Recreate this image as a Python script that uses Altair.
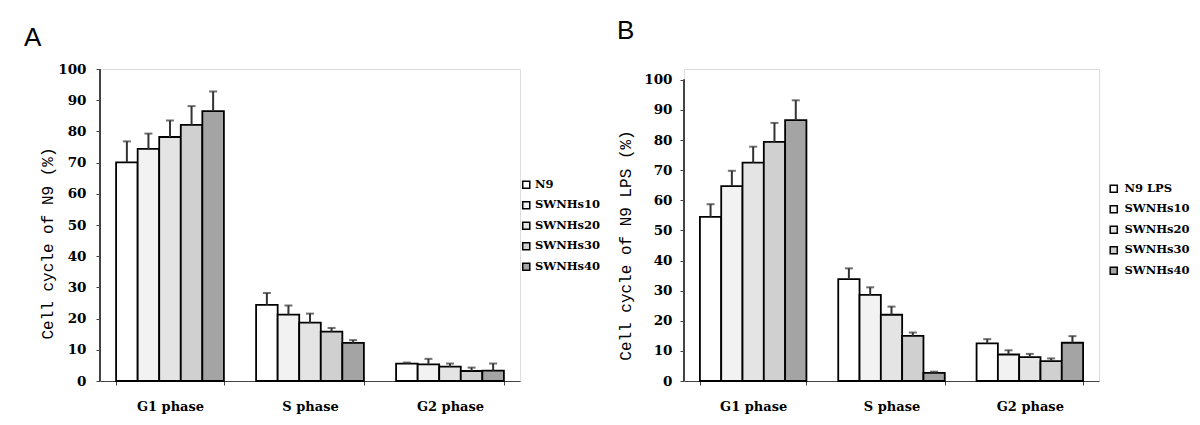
import altair as alt
import pandas as pd

phases = ["G1 phase", "S phase", "G2 phase"]
groups_a = ["N9", "SWNHs10", "SWNHs20", "SWNHs30", "SWNHs40"]
groups_b = ["N9 LPS", "SWNHs10", "SWNHs20", "SWNHs30", "SWNHs40"]

# Panel A values (mean) and error (upper SD), per phase, per group
a_g1 = [70.1, 74.4, 78.2, 82.1, 86.5]
a_g1_err = [6.7, 4.9, 5.3, 6.0, 6.3]
a_s = [24.4, 21.3, 18.7, 15.8, 12.2]
a_s_err = [3.8, 2.9, 2.9, 1.2, 0.9]
a_g2 = [5.6, 5.3, 4.6, 3.2, 3.3]
a_g2_err = [0.3, 1.8, 1.0, 1.1, 2.3]

# Panel B
b_g1 = [54.5, 64.7, 72.5, 79.4, 86.6]
b_g1_err = [4.2, 5.1, 5.3, 6.3, 6.6]
b_s = [33.8, 28.6, 22.0, 15.0, 2.7]
b_s_err = [3.6, 2.5, 2.7, 1.1, 0.4]
b_g2 = [12.5, 8.8, 7.9, 6.6, 12.7]
b_g2_err = [1.4, 1.4, 1.1, 0.9, 2.2]

y_ticks = [0, 10, 20, 30, 40, 50, 60, 70, 80, 90, 100]
fills = ["#ffffff", "#f2f2f2", "#e4e4e4", "#d0d0d0", "#a4a4a4"]
AXIS_GREY = "#444444"


def make_df(groups, vals, errs):
    rows = []
    for p, vs, es in zip(phases, vals, errs):
        for g, v, e in zip(groups, vs, es):
            rows.append({"phase": p, "group": g, "value": v, "top": round(v + e, 2)})
    return pd.DataFrame(rows)


def panel(df, groups, letter, ytitle, width, height, ymax, title_dx, title_offset,
          legend_x, legend_y, label_offset, ytitle_x, ytitle_y, ylabel_pad):
    x = alt.X(
        "phase:N", sort=phases, title=None,
        scale=alt.Scale(paddingInner=0.23, paddingOuter=0.115),
        axis=alt.Axis(labelAngle=0, tickBand="extent", labelFont="DejaVu Serif",
                      labelFontWeight="bold", labelFontSize=13, labelPadding=15,
                      tickSize=4, domainColor=AXIS_GREY, tickColor=AXIS_GREY,
                      labelColor="black"),
    )
    xo = alt.XOffset("group:N", sort=groups,
                     scale=alt.Scale(domain=groups, paddingInner=0, paddingOuter=0))
    yaxis = alt.Axis(values=y_ticks, grid=False, domain=False, labelFont="DejaVu Serif",
                     labelFontWeight="bold", labelFontSize=13.5, labelColor="black",
                     labelPadding=ylabel_pad, tickSize=4, tickColor=AXIS_GREY,
                     labelOverlap=False,
                     titleFont="Liberation Mono", titleFontWeight="normal",
                     titleFontSize=16, titleColor="black",
                     titleX=ytitle_x, titleY=ytitle_y, titleAngle=270)
    yscale = alt.Scale(domain=[0, ymax], nice=False)
    color = alt.Color(
        "group:N", sort=groups,
        scale=alt.Scale(domain=groups, range=fills),
        legend=alt.Legend(title=None, orient="none", legendX=legend_x, legendY=legend_y,
                          padding=0, labelFont="DejaVu Serif", labelFontWeight="bold",
                          labelFontSize=11.5, labelColor="black", symbolType="square",
                          symbolSize=50, symbolStrokeColor="black",
                          symbolStrokeWidth=1.5, rowPadding=6.5,
                          labelOffset=label_offset),
    )
    base = alt.Chart(df)
    bars = base.mark_bar(stroke="black", strokeWidth=1.8).encode(
        x=x, xOffset=xo, y=alt.Y("value:Q", title=ytitle, scale=yscale, axis=yaxis),
        color=color)
    rule = base.mark_rule(color="#333333", strokeWidth=2).encode(
        x=x, xOffset=xo, y=alt.Y("value:Q", title=ytitle, scale=yscale, axis=yaxis),
        y2=alt.Y2("top:Q"))
    cap = base.mark_tick(color="#333333", thickness=2, size=8).encode(
        x=x, xOffset=xo, y=alt.Y("top:Q", title=ytitle, scale=yscale, axis=yaxis))
    # y-axis line from 0 to 100 (drawn with the y scale)
    yline = alt.Chart(df).mark_rule(color=AXIS_GREY, strokeWidth=1).encode(
        x=alt.value(0),
        y=alt.Y(datum=0, title=ytitle, scale=yscale, axis=yaxis),
        y2=alt.Y2(datum=100),
    )
    return alt.layer(bars, rule, cap, yline).properties(
        width=width, height=height,
        title=alt.TitleParams(letter, anchor="start", frame="group", dx=title_dx,
                              offset=title_offset, fontSize=26, font="Liberation Sans",
                              fontWeight="normal", color="black"),
    )


df_a = make_df(groups_a, [a_g1, a_s, a_g2], [a_g1_err, a_s_err, a_g2_err])
df_b = make_df(groups_b, [b_g1, b_s, b_g2], [b_g1_err, b_s_err, b_g2_err])

pa = panel(df_a, groups_a, "A", "Cell cycle of N9 (%)", 420, 312, 100, -76, 11,
           420.5, 110, 3, -45, 174, 10)
pb = panel(df_b, groups_b, "B", "Cell cycle of N9 LPS (%)", 415, 312, 103.6, -67, 25,
           424, 114, 5, -51, 176, 8)

chart = alt.concat(pa, pb, columns=2, align="none", spacing=15).resolve_scale(
    color="independent", xOffset="independent"
).resolve_legend(color="independent").properties(
    padding={"left": 15, "top": 9, "right": 0, "bottom": 0}
).configure_view(stroke=None).configure(background="white")

chart.save("out.html", embed_options={"renderer": "svg", "actions": False})
